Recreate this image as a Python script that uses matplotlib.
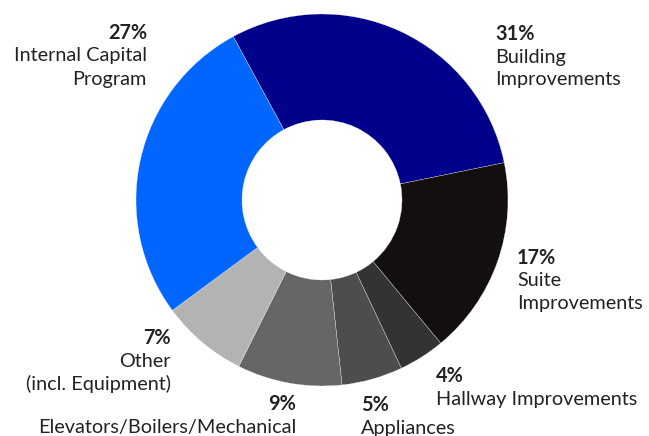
import matplotlib.pyplot as plt

plt.rcParams['font.family'] = ['Lato', 'DejaVu Sans']

# slices, clockwise from the top
pcts = ['31%', '17%', '4%', '5%', '9%', '7%', '27%']
labels = ['Building\nImprovements', 'Suite\nImprovements', 'Hallway Improvements',
          'Appliances', 'Elevators/Boilers/Mechanical', 'Other\n(incl. Equipment)',
          'Internal Capital\nProgram']
values = [29.7, 17.2, 4.0, 5.3, 9.1, 7.5, 27.2]
colors = ['#00008b', '#130f0f', '#333333', '#4d4d4d', '#666666', '#b3b3b3', '#0066ff']

W, H = 649, 436
fig = plt.figure(figsize=(W / 100, H / 100), dpi=100)
ax = fig.add_axes([0, 0, 1, 1])

cx, cy, r = 322, H - 200, 186
ax.pie(values, colors=colors, startangle=118.5, counterclock=False,
       center=(cx, cy), radius=r, frame=True,
       wedgeprops=dict(width=r - 80, edgecolor='white', linewidth=0.2))
ax.set_xlim(0, W)
ax.set_ylim(0, H)
ax.set_aspect('equal')
ax.axis('off')

# label anchor (x, y of the percent line, in px from top), alignment
spots = [(495, 34, 'left'), (517, 258, 'left'), (436, 376, 'left'),
         (361, 405, 'left'), (296, 404, 'right'), (171, 338, 'right'),
         (147, 33, 'right')]
tc = '#222222'
fs = 14.3
for p, lab, (x, y, ha) in zip(pcts, labels, spots):
    ax.text(x, H - y, p, ha=ha, va='center', fontsize=fs, fontweight='bold', color=tc)
    for i, line in enumerate(lab.split('\n')):
        ax.text(x, H - y - 23 * (i + 1), line, ha=ha, va='center', fontsize=fs, color=tc)

plt.savefig('out.png', dpi=100)
